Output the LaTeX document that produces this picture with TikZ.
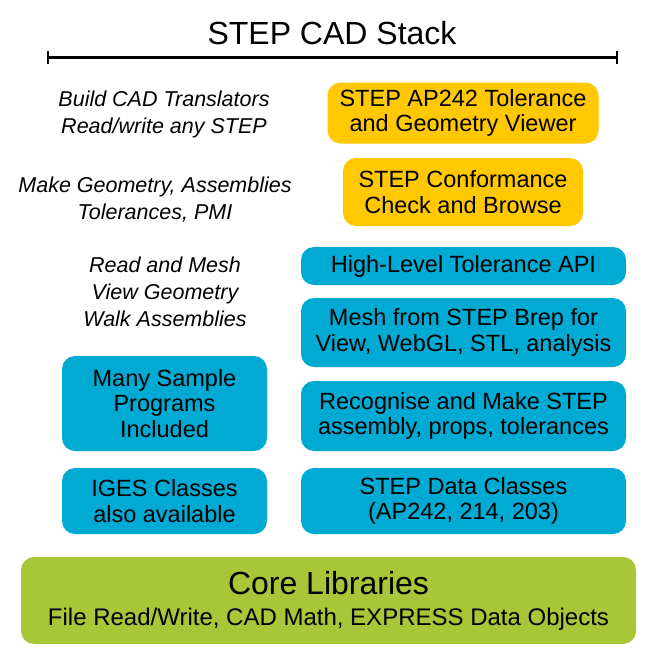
\documentclass[tikz,border=0pt]{standalone}
\usepackage{fontspec}
\setmainfont{Liberation Sans}
\usepackage{xcolor}
\usetikzlibrary{arrows.meta}
\definecolor{stackorange}{RGB}{255,200,0}
\definecolor{stackblue}{RGB}{0,170,210}
\definecolor{stackgreen}{RGB}{168,198,56}
\newcommand{\boxfont}{\fontsize{23.5}{25.5}\selectfont}
\newcommand{\taskfont}{\fontsize{21.5}{27}\selectfont\itshape}

\begin{document}
\begin{tikzpicture}[x=1pt, y=-1pt,
    layer/.style={rounded corners=13pt, inner sep=0pt, align=center, font=\boxfont},
    orangebox/.style={layer, fill=stackorange},
    bluebox/.style={layer, fill=stackblue},
    tasktext/.style={inner sep=0pt, align=center, font=\taskfont}]
  \useasboundingbox (0,0) rectangle (657,665);

  % title and rule
  \node[font=\fontsize{32}{36}\selectfont] (title) at (332,33) {STEP CAD Stack};
  \coordinate (rulel) at (47,57);
  \coordinate (ruler) at (618,57);
  \draw[line width=3pt, {Bar[width=13pt,line width=2pt]}-{Bar[width=13pt,line width=2pt]}] (rulel) -- (ruler);

  % what you can do
  \node[tasktext] (tbuild) at (164,114.5) {Build CAD Translators\\Read/write any STEP};
  \node[tasktext] (tmake) at (155,199.5) {Make Geometry, Assemblies\\Tolerances, PMI};
  \node[tasktext] (tread) at (165,292) {Read and Mesh\\View Geometry\\Walk Assemblies};

  % applications
  \node[orangebox, minimum width=271, minimum height=61] (viewer) at (463,113) {STEP AP242 Tolerance\\and Geometry Viewer};
  \node[orangebox, minimum width=240, minimum height=68] (conform) at (463,192) {STEP Conformance\\Check and Browse};

  % class layers
  \node[bluebox, minimum width=325, minimum height=38] (tolapi) at (463.5,266) {High-Level Tolerance API};
  \node[bluebox, minimum width=325, minimum height=69] (mesh) at (463.5,332.5) {Mesh from STEP Brep for\\View, WebGL, STL, analysis};
  \node[bluebox, minimum width=325, minimum height=70] (recog) at (463.5,416) {Recognise and Make STEP\\assembly, props, tolerances};
  \node[bluebox, minimum width=325, minimum height=66] (stepdata) at (463.5,501) {STEP Data Classes\\(AP242, 214, 203)};
  \node[bluebox, minimum width=205, minimum height=95] (samples) at (164.5,403.5) {Many Sample\\Programs\\Included};
  \node[bluebox, minimum width=205, minimum height=66] (iges) at (164.5,501) {IGES Classes\\also available};

  % core
  \node[layer, fill=stackgreen, minimum width=615, minimum height=87, font=\fontsize{24}{31}\selectfont] (core) at (328.5,600.5)
    {{\fontsize{32}{31}\selectfont Core Libraries}\\File Read/Write, CAD Math, EXPRESS Data Objects};
\end{tikzpicture}
\end{document}
